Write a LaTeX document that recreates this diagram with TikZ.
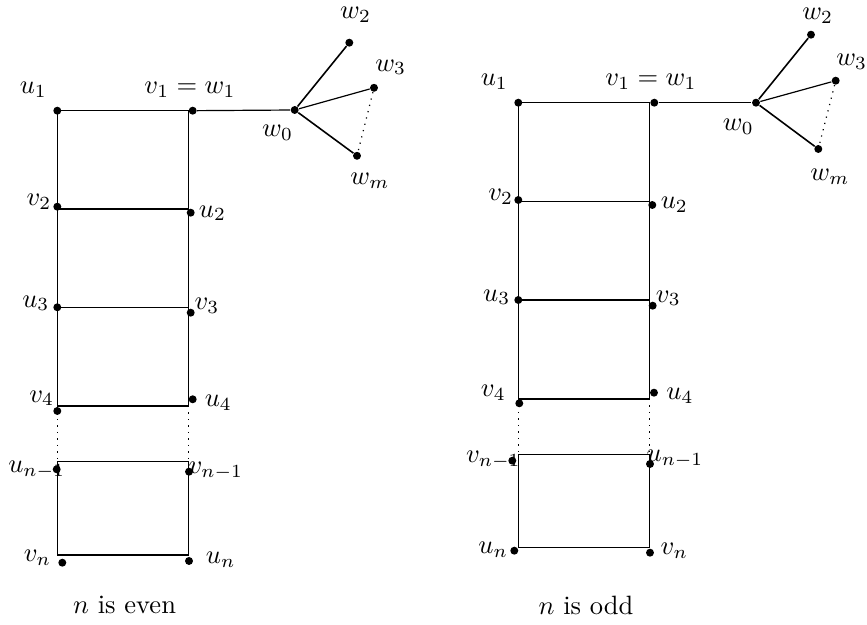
\documentclass[tikz,border=0pt]{standalone}
\begin{document}
\begin{tikzpicture}[x=0.377pt,y=-0.377pt,
  dot/.style={circle,fill=black,inner sep=0pt,minimum size=3pt},
  lbl/.style={inner sep=0pt,font=\normalsize},
  edge/.style={line width=0.45pt},
  dotline/.style={line width=0.45pt,dotted}]
\useasboundingbox (0,0) rectangle (867,625);
% ---------------- left: n even ----------------
\coordinate (La1) at (57.3,110.7); \coordinate (Lb1) at (188.3,110.7);
\coordinate (La2) at (57.3,209);   \coordinate (Lb2) at (188.3,209);
\coordinate (La3) at (57.3,307.3); \coordinate (Lb3) at (188.3,307.3);
\coordinate (La4) at (57.3,406);   \coordinate (Lb4) at (188.3,406);
\coordinate (La5) at (57.3,461.7); \coordinate (Lb5) at (188.3,461.7);
\coordinate (La6) at (57.3,555);   \coordinate (Lb6) at (188.3,555);
\draw[edge] (La1) -- (Lb1) -- (Lb4) -- (La4) -- cycle;
\draw[edge] (La2) -- (Lb2);
\draw[edge] (La3) -- (Lb3);
\draw[dotline] (La4) -- (La5);
\draw[dotline] (Lb4) -- (Lb5);
\draw[edge] (La5) -- (Lb5) -- (Lb6) -- (La6) -- cycle;

\node[dot] (Lu1) at (57.3,110.7) {};
\node[dot] (Lv1) at (192.7,110.7) {};
\node[dot] (Lw0) at (294.7,110) {};
\node[dot] (Lw2) at (349.3,42.7) {};
\node[dot] (Lw3) at (374,87.8) {};
\node[dot] (Lwm) at (357,155.8) {};
\node[dot] (Lv2) at (57.3,206.7) {};
\node[dot] (Lu2) at (190.7,212.7) {};
\node[dot] (Lu3) at (57.3,307.3) {};
\node[dot] (Lv3) at (190.7,312.7) {};
\node[dot] (Lv4) at (57.3,411) {};
\node[dot] (Lu4) at (192.7,399.3) {};
\node[dot] (Lun1) at (56.7,469.3) {};
\node[dot] (Lvn1) at (189,471.7) {};
\node[dot] (Lvn) at (62.3,562.7) {};
\node[dot] (Lun) at (189,561) {};

\draw[edge] (Lv1) -- (Lw0);
\draw[line width=0.6pt] (Lw0) -- (Lw2);
\draw[edge] (Lw0) -- (Lw3);
\draw[line width=0.6pt] (Lw0) -- (Lwm);
\draw[dotline] (Lw3) -- (Lwm);

\node[lbl] (tLu1) at (33.3,89.5) {$u_1$};
\node[lbl] (tLv1) at (190,89.5) {$v_1 = w_1$};
\node[lbl] (tLw0) at (277.5,132.5) {$w_0$};
\node[lbl] (tLw2) at (355.5,15) {$w_2$};
\node[lbl] (tLw3) at (390.7,67.3) {$w_3$};
\node[lbl] (tLwm) at (370,180.8) {$w_m$};
\node[lbl] (tLv2) at (39,202) {$v_2$};
\node[lbl] (tLu2) at (212.5,213.3) {$u_2$};
\node[lbl] (tLu3) at (35.8,303.3) {$u_3$};
\node[lbl] (tLv3) at (207,305.8) {$v_3$};
\node[lbl] (tLv4) at (41.7,398.3) {$v_4$};
\node[lbl] (tLu4) at (218.3,402.5) {$u_4$};
\node[lbl] (tLun1) at (36.7,470) {$u_{n-1}$};
\node[lbl] (tLvn1) at (215.8,470.8) {$v_{n-1}$};
\node[lbl] (tLvn) at (37.5,557.5) {$v_n$};
\node[lbl] (tLun) at (220.8,560) {$u_n$};
\node[lbl] (capL) at (124.5,605) {$n$ is even};

% ---------------- right: n odd ----------------
\coordinate (Ra1) at (518.3,102.7); \coordinate (Rb1) at (649.3,102.7);
\coordinate (Ra2) at (518.3,201.7); \coordinate (Rb2) at (649.3,201.7);
\coordinate (Ra3) at (518.3,300);   \coordinate (Rb3) at (649.3,300);
\coordinate (Ra4) at (518.3,399);   \coordinate (Rb4) at (649.3,399);
\coordinate (Ra5) at (518.3,454.3); \coordinate (Rb5) at (649.3,454.3);
\coordinate (Ra6) at (518.3,547.7); \coordinate (Rb6) at (649.3,547.7);
\draw[edge] (Ra1) -- (Rb1) -- (Rb4) -- (Ra4) -- cycle;
\draw[edge] (Ra2) -- (Rb2);
\draw[edge] (Ra3) -- (Rb3);
\draw[dotline] (Ra4) -- (Ra5);
\draw[dotline] (Rb4) -- (Rb5);
\draw[edge] (Ra5) -- (Rb5) -- (Rb6) -- (Ra6) -- cycle;

\node[dot] (Ru1) at (518.3,102.7) {};
\node[dot] (Rv1) at (654.3,102.7) {};
\node[dot] (Rw0) at (756,102.7) {};
\node[dot] (Rw2) at (811,34.7) {};
\node[dot] (Rw3) at (835.7,80.7) {};
\node[dot] (Rwm) at (818.3,149) {};
\node[dot] (Rv2) at (518.3,200) {};
\node[dot] (Ru2) at (652.3,205) {};
\node[dot] (Ru3) at (518.3,300) {};
\node[dot] (Rv3) at (652.7,305.7) {};
\node[dot] (Rv4) at (519.3,403.3) {};
\node[dot] (Ru4) at (654,392.7) {};
\node[dot] (Rvn1) at (512.3,460.7) {};
\node[dot] (Run1) at (650,464) {};
\node[dot] (Run) at (514.3,550.7) {};
\node[dot] (Rvn) at (650,552.7) {};

\draw[edge] (Rv1) -- (Rw0);
\draw[line width=0.6pt] (Rw0) -- (Rw2);
\draw[edge] (Rw0) -- (Rw3);
\draw[line width=0.6pt] (Rw0) -- (Rwm);
\draw[dotline] (Rw3) -- (Rwm);

\node[lbl] (tRu1) at (494.3,82) {$u_1$};
\node[lbl] (tRv1) at (651,82) {$v_1 = w_1$};
\node[lbl] (tRw0) at (738.3,126.7) {$w_0$};
\node[lbl] (tRw2) at (817.7,16) {$w_2$};
\node[lbl] (tRw3) at (851.7,61.7) {$w_3$};
\node[lbl] (tRwm) at (830,176.7) {$w_m$};
\node[lbl] (tRv2) at (500.7,196.7) {$v_2$};
\node[lbl] (tRu2) at (674.3,205) {$u_2$};
\node[lbl] (tRu3) at (496.7,297.3) {$u_3$};
\node[lbl] (tRv3) at (668.3,298.3) {$v_3$};
\node[lbl] (tRv4) at (493.3,392.7) {$v_4$};
\node[lbl] (tRu4) at (680,396) {$u_4$};
\node[lbl] (tRvn1) at (493.3,460) {$v_{n-1}$};
\node[lbl] (tRun1) at (675,459.3) {$u_{n-1}$};
\node[lbl] (tRun) at (493.3,550) {$u_n$};
\node[lbl] (tRvn) at (674.3,550.7) {$v_n$};
\node[lbl] (capR) at (586,605) {$n$ is odd};
\end{tikzpicture}
\end{document}
